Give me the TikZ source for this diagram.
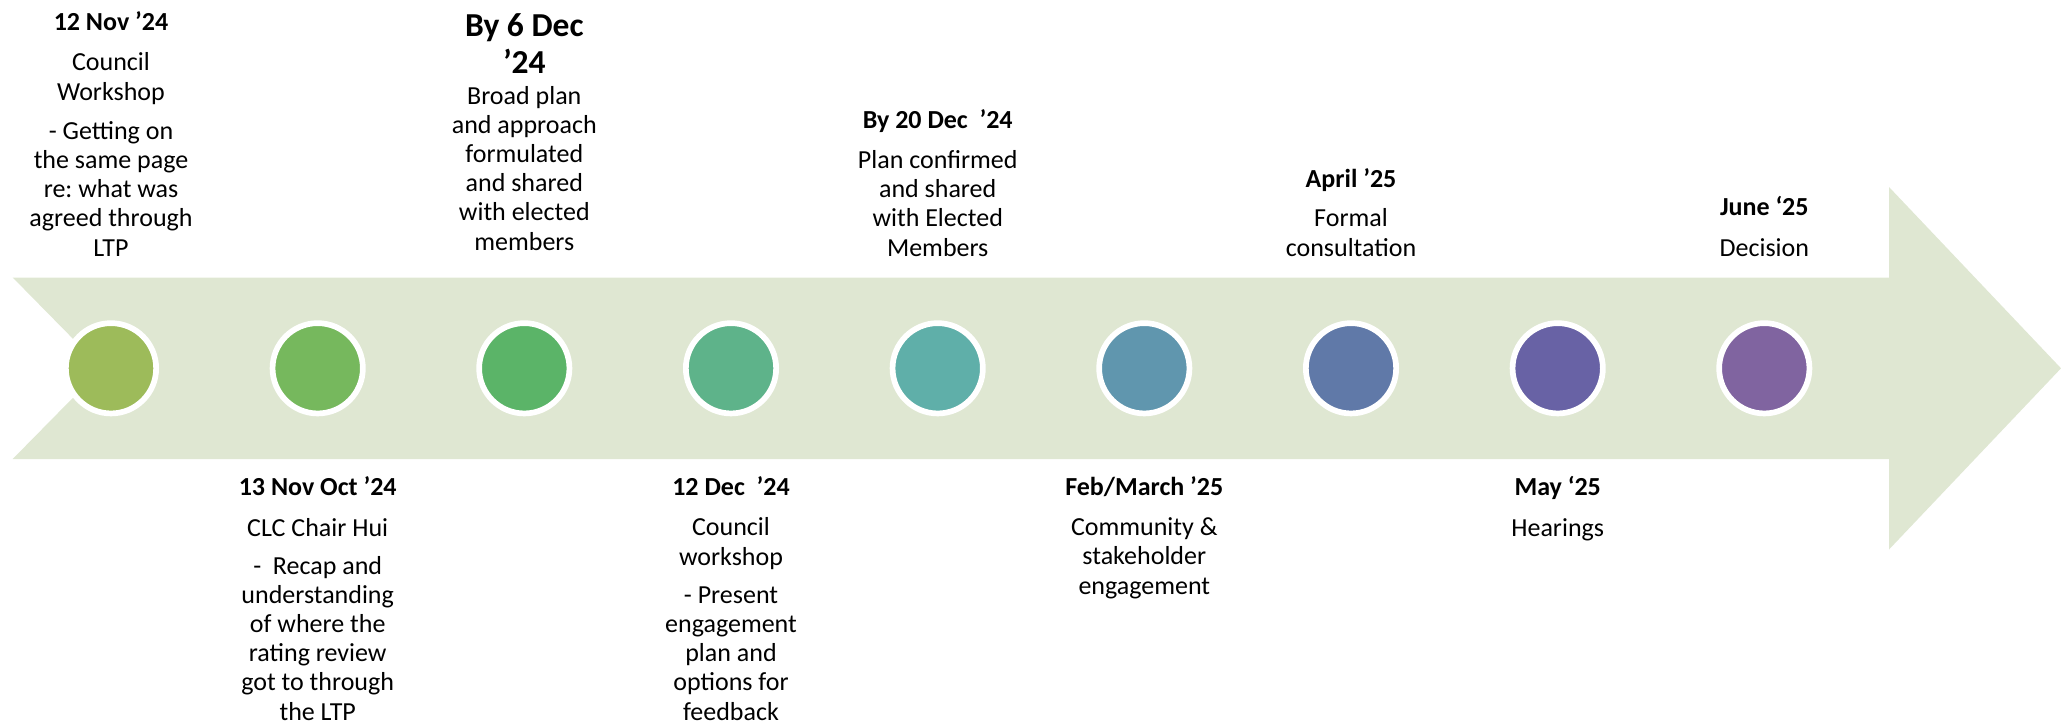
\documentclass[tikz,border=0pt]{standalone}
\usepackage{fontspec}
\setmainfont{Carlito}
\frenchspacing
\definecolor{band}{HTML}{DFE7D2}
\definecolor{m1}{HTML}{9DBB5A}
\definecolor{m2}{HTML}{76B85D}
\definecolor{m3}{HTML}{5BB468}
\definecolor{m4}{HTML}{5EB38A}
\definecolor{m5}{HTML}{5FAFA9}
\definecolor{m6}{HTML}{6096AE}
\definecolor{m7}{HTML}{6079A8}
\definecolor{m8}{HTML}{6862A5}
\definecolor{m9}{HTML}{8064A0}
% multi-line labels are placed by the baseline of their last line
\tikzset{
  milestone/.style={circle, fill=#1, draw=white, line width=5.7pt,
    minimum size=90.3pt, inner sep=0pt},
  datetext/.style={anchor=base, align=center, inner sep=0pt,
    font=\fontsize{26}{29.3}\selectfont\bfseries},
  bigdate/.style={anchor=base, align=center, inner sep=0pt,
    font=\fontsize{33.5}{37}\selectfont\bfseries},
  bodytext/.style={anchor=base, align=center, inner sep=0pt,
    font=\fontsize{26}{29.1}\selectfont},
}
\begin{document}
\begin{tikzpicture}[x=1pt, y=-1pt]
\useasboundingbox (0,0) rectangle (2061,726);
% timeline arrow
\fill[band] (12.7,277.5) -- (1889,277.5) -- (1889,187) -- (2061,368.3)
  -- (1889,549.5) -- (1889,459) -- (12.7,459) -- (102,368.3) -- cycle;
% milestones
\node[milestone=m1] (c1) at (111,368.3) {};
\node[milestone=m2] (c2) at (317.7,368.3) {};
\node[milestone=m3] (c3) at (524.3,368.3) {};
\node[milestone=m4] (c4) at (731,368.3) {};
\node[milestone=m5] (c5) at (937.7,368.3) {};
\node[milestone=m6] (c6) at (1144.3,368.3) {};
\node[milestone=m7] (c7) at (1351,368.3) {};
\node[milestone=m8] (c8) at (1557.7,368.3) {};
\node[milestone=m9] (c9) at (1764.3,368.3) {};
% labels above the arrow
\node[datetext] (d1) at (111,30) {12 Nov ’24};
\node[bodytext] (p1a) at (111,100) {Council\\Workshop};
\node[bodytext] (p1b) at (111,256) {- Getting on\\the same page\\re: what was\\agreed through\\LTP};
\node[bigdate] (d3) at (524.3,73) {By 6 Dec\\’24};
\node[bodytext] (p3) at (524.3,250) {Broad plan\\and approach\\formulated\\and shared\\with elected\\members};
\node[datetext] (d5) at (937.7,128) {By 20 Dec~~’24};
\node[bodytext] (p5) at (937.7,256) {Plan confirmed\\and shared\\with Elected\\Members};
\node[datetext] (d7) at (1351,187) {April ’25};
\node[bodytext] (p7) at (1351,256) {Formal\\consultation};
\node[datetext] (d9) at (1764.3,215) {June ‘25};
\node[bodytext] (p9) at (1764.3,256) {Decision};
% labels below the arrow
\node[datetext] (d2) at (317.7,495) {13 Nov Oct ’24};
\node[bodytext] (p2a) at (317.7,536) {CLC Chair Hui};
\node[bodytext] (p2b) at (317.7,720) {-~~Recap and\\understanding\\of where the\\rating review\\got to through\\the LTP};
\node[datetext] (d4) at (731,495) {12 Dec~~’24};
\node[bodytext] (p4a) at (731,565) {Council\\workshop};
\node[bodytext] (p4b) at (731,720) {- Present\\engagement\\plan and\\options for\\feedback};
\node[datetext] (d6) at (1144.3,495) {Feb/March ’25};
\node[bodytext] (p6) at (1144.3,594) {Community \&\\stakeholder\\engagement};
\node[datetext] (d8) at (1557.7,495) {May ‘25};
\node[bodytext] (p8) at (1557.7,536) {Hearings};
\end{tikzpicture}
\end{document}
